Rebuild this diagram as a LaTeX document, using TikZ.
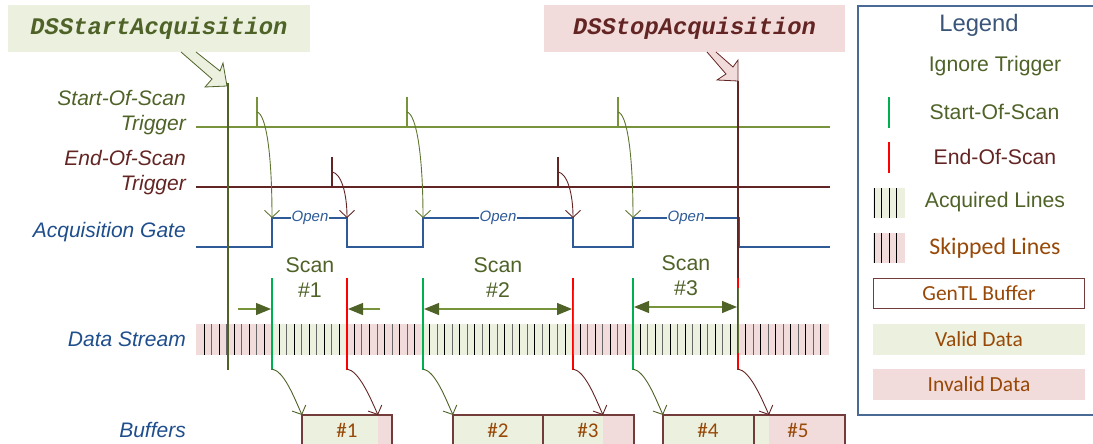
\documentclass[tikz,border=0pt]{standalone}
\usepackage{fontspec}
\setmainfont{Liberation Sans}
\newfontfamily\calib{Carlito}
\newfontfamily\cour{Liberation Mono}
\usetikzlibrary{arrows.meta}
\definecolor{oliveD}{HTML}{4F6228}
\definecolor{trigG}{HTML}{77933C}
\definecolor{darkR}{HTML}{632523}
\definecolor{gateB}{HTML}{2E5A98}
\definecolor{labB}{HTML}{1F4E8C}
\definecolor{lgG}{HTML}{EBF1DE}
\definecolor{lgP}{HTML}{F2DCDB}
\definecolor{brn}{HTML}{984807}
\definecolor{mkG}{HTML}{00B050}
\definecolor{mkR}{HTML}{FF0000}
\definecolor{legB}{HTML}{4A6A96}
\tikzset{dtip/.tip={Triangle[length=15pt,width=12pt,color=oliveD]}}
\begin{document}
\begin{tikzpicture}[x=1pt,y=-1pt,
  lbl/.style={font=\fontsize{21}{25}\selectfont\itshape, anchor=east, inner sep=0pt, align=right},
  hdr/.style={inner sep=0pt, minimum height=47pt, font=\cour\bfseries\itshape\fontsize{23.8}{26}\selectfont},
  sigline/.style={line width=1.5pt},
  bigline/.style={line width=2.5pt},
  marker/.style={line width=2.5pt},
  curv/.style={line width=0.9pt, -{Straight Barb[length=7pt,width=15pt]}},
  dim/.style={line width=1.2pt, trigG},
  opentxt/.style={font=\fontsize{15}{16}\selectfont\itshape, text=gateB, fill=white, inner sep=1pt},
  scanlbl/.style={font=\fontsize{21.3}{25}\selectfont, text=oliveD, align=center, inner sep=0pt},
  buftxt/.style={font=\calib\fontsize{21}{22}\selectfont, text=brn, inner sep=0pt},
  bufedge/.style={draw=darkR!90, line width=1.2pt},
  legtxt/.style={font=\fontsize{21.2}{22}\selectfont, inner sep=0pt},
  legtxtc/.style={font=\calib\fontsize{21.5}{22}\selectfont, text=brn, inner sep=0pt},
  tick/.style={line width=0.9pt}
]
\useasboundingbox (0,0) rectangle (1093,444);

% ---------- header boxes ----------
\node[hdr, fill=lgG, text=oliveD, minimum width=302pt] (startbox) at (159,28.5) {DSStartAcquisition};
\node[hdr, fill=lgP, text=darkR, minimum width=301pt] (stopbox) at (694.5,28.5) {DSStopAcquisition};

% block arrows
\fill[lgG] (181,52) -- (212,79) -- (205,87) -- (227,86) -- (223,63) -- (220,71) -- (196,52) -- cycle;
\draw[oliveD, line width=0.8pt, line join=miter] (181,52) -- (212,79) -- (205,87) -- (227,86) -- (223,63) -- (220,71) -- (196,52);
\fill[lgP] (707,52) -- (726,74) -- (717,80) -- (738,81) -- (738,60) -- (733,67) -- (716,52) -- cycle;
\draw[darkR, line width=0.8pt, line join=miter] (707,52) -- (726,74) -- (717,80) -- (738,81) -- (738,60) -- (733,67) -- (716,52);

% ---------- row labels ----------
\node[lbl, text=oliveD] (lstart) at (186,112.5) {Start-Of-Scan\\Trigger};
\node[lbl, text=darkR] (lend) at (186,172.5) {End-Of-Scan\\Trigger};
\node[lbl, text=labB] (lgate) at (186,232) {Acquisition Gate};
\node[lbl, text=labB] (lds) at (186,339) {Data Stream};
\node[lbl, text=labB] (lbuf) at (186,430) {Buffers};

% ---------- trigger lines ----------
\draw[sigline, trigG] (196,127) -- (830,127);
\foreach \x in {257,407,618} \draw[sigline, trigG] (\x,127) -- (\x,97);
\draw[sigline, darkR] (196,187) -- (830,187);
\foreach \x in {332,558} \draw[sigline, darkR] (\x,187) -- (\x,157);

% ---------- acquisition gate ----------
\draw[line width=1.6pt, gateB] (196,247) -- (272,247) -- (272,218) -- (347,218) -- (347,247) -- (423,247) -- (423,218) -- (573,218) -- (573,247) -- (633,247) -- (633,218) -- (739,218) -- (739,247) -- (830,247);
\node[opentxt] (o1) at (310,218) {Open};
\node[opentxt] (o2) at (498,218) {Open};
\node[opentxt] (o3) at (686,218) {Open};

% trigger -> gate arrows
\coordinate (s1) at (257,112); \coordinate (g1) at (272,218);
\coordinate (s2) at (407,112); \coordinate (g3) at (423,218);
\coordinate (s3) at (618,112); \coordinate (g5) at (633,218);
\coordinate (e1) at (332,172); \coordinate (g2) at (347,218);
\coordinate (e2) at (558,172); \coordinate (g4) at (573,218);
\draw[curv, trigG!80!black] (s1) .. controls +(9,2) and +(0,-65) .. (g1);
\draw[curv, trigG!80!black] (s2) .. controls +(9,2) and +(0,-65) .. (g3);
\draw[curv, trigG!80!black] (s3) .. controls +(9,2) and +(0,-65) .. (g5);
\draw[curv, darkR] (e1) .. controls +(9,1) and +(0,-25) .. (g2);
\draw[curv, darkR] (e2) .. controls +(9,1) and +(0,-25) .. (g4);

% ---------- data stream ----------
\fill[lgP] (196,324) rectangle (272,355);
\fill[lgG] (272,324) rectangle (347,355);
\fill[lgP] (347,324) rectangle (423,355);
\fill[lgG] (423,324) rectangle (573,355);
\fill[lgP] (573,324) rectangle (633,355);
\fill[lgG] (633,324) rectangle (738,355);
\fill[lgP] (738,324) rectangle (829,355);
\foreach \i in {0,...,82}{
  \ifodd\i \def\tc{black!60}\else\def\tc{black}\fi
  \draw[tick, \tc] ({204+7.52*\i},324) -- ++(0,31);
}

% start / stop vertical lines
\draw[bigline, oliveD] (228,83) -- (228,370);
\draw[bigline, darkR] (738,81) -- (738,280);

% markers
\foreach \x in {272,423,633} \draw[marker, mkG] (\x,278) -- (\x,370);
\foreach \x in {347,573,738} \draw[marker, mkR] (\x,278) -- (\x,370);
\draw[line width=1pt, oliveD!90] (573,290) -- (573,355);
\draw[line width=1pt, oliveD!90] (738,288) -- (738,353);

% scan labels
\node[scanlbl] (sc1) at (310,277.5) {Scan\\\#1};
\node[scanlbl] (sc2) at (498,277.5) {Scan\\\#2};
\node[scanlbl] (sc3) at (686,275.5) {Scan\\\#3};

% dimension arrows
\coordinate (d1a) at (238,309); \coordinate (d1b) at (271,309);
\coordinate (d1c) at (380,309); \coordinate (d1d) at (348,309);
\draw[dim, -{dtip}] (d1a) -- (d1b);
\draw[dim, -{dtip}] (d1c) -- (d1d);
\coordinate (d2a) at (424,309); \coordinate (d2b) at (572,309);
\draw[dim, {dtip}-{dtip}] (d2a) -- (d2b);
\coordinate (d3a) at (634,307); \coordinate (d3b) at (737,307);
\draw[dim, {dtip}-{dtip}] (d3a) -- (d3b);

% ---------- buffers ----------
\fill[lgG] (302,415) rectangle (378,450);
\fill[lgP] (378,415) rectangle (392,450);
\fill[lgG] (453,415) rectangle (543,450);
\fill[lgG] (543,415) rectangle (603,450);
\fill[lgP] (603,415) rectangle (634,450);
\fill[lgG] (663,415) rectangle (754,450);
\fill[lgG] (754,415) rectangle (769,450);
\fill[lgP] (769,415) rectangle (845,450);
\draw[bufedge] (302,450) -- (302,415) -- (392,415) -- (392,450);
\draw[bufedge] (453,450) -- (453,415) -- (634,415) -- (634,450);
\draw[bufedge] (543,415) -- (543,450);
\draw[bufedge] (663,450) -- (663,415) -- (845,415) -- (845,450);
\draw[bufedge] (754,415) -- (754,450);
\node[buftxt] (b1) at (347,430) {\#1};
\node[buftxt] (b2) at (498,430) {\#2};
\node[buftxt] (b3) at (588,430) {\#3};
\node[buftxt] (b4) at (708,430) {\#4};
\node[buftxt] (b5) at (798,430) {\#5};

% marker -> buffer arrows
\coordinate (m1) at (272,369); \coordinate (t1) at (302,415);
\coordinate (m2) at (347,369); \coordinate (t2) at (378,415);
\coordinate (m3) at (423,369); \coordinate (t3) at (453,415);
\coordinate (m4) at (573,369); \coordinate (t4) at (603,415);
\coordinate (m5) at (633,369); \coordinate (t5) at (663,415);
\coordinate (m6) at (738,369); \coordinate (t6) at (769,415);
\draw[curv, oliveD] (m1) .. controls +(12,2) and +(-8,-18) .. (t1);
\draw[curv, darkR] (m2) .. controls +(12,2) and +(-8,-18) .. (t2);
\draw[curv, oliveD] (m3) .. controls +(12,2) and +(-8,-18) .. (t3);
\draw[curv, darkR] (m4) .. controls +(12,2) and +(-8,-18) .. (t4);
\draw[curv, oliveD] (m5) .. controls +(12,2) and +(-8,-18) .. (t5);
\draw[curv, darkR] (m6) .. controls +(12,2) and +(-8,-18) .. (t6);

% ---------- legend ----------
\draw[legB, line width=1.8pt] (858,6) rectangle (1110,415);
\node[legtxt, text=legB!80!black, font=\fontsize{23.8}{26}\selectfont] (legtitle) at (979,25) {Legend};
\node[legtxt, text=oliveD] (lg1) at (995,66) {Ignore Trigger};
\draw[marker, mkG] (889,97) -- (889,128);
\node[legtxt, text=oliveD] (lg2) at (994.5,112) {Start-Of-Scan};
\draw[marker, mkR] (889,142) -- (889,173);
\node[legtxt, text=darkR] (lg3) at (995,157) {End-Of-Scan};
\fill[lgG] (873,188) rectangle (905,218);
\foreach \x in {874,881.5,889,896.5} \draw[tick, black] (\x,188) -- (\x,218);
\node[legtxt, text=oliveD] (lg4) at (995,202) {Acquired Lines};
\fill[lgP] (873,233) rectangle (905,263);
\foreach \x in {874,881.5,889,896.5} \draw[tick, black] (\x,233) -- (\x,263);
\node[legtxtc, font=\calib\fontsize{23.8}{26}\selectfont] (lg5) at (995,248) {Skipped Lines};
\node[legtxtc, draw=darkR!90, line width=1.2pt, minimum width=211pt, minimum height=30pt] (lg6) at (979,293.5) {GenTL Buffer};
\node[legtxtc, fill=lgG, minimum width=212pt, minimum height=31pt] (lg7) at (979,339) {Valid Data};
\node[legtxtc, fill=lgP, minimum width=212pt, minimum height=31pt] (lg8) at (979,384) {Invalid Data};
\end{tikzpicture}
\end{document}
